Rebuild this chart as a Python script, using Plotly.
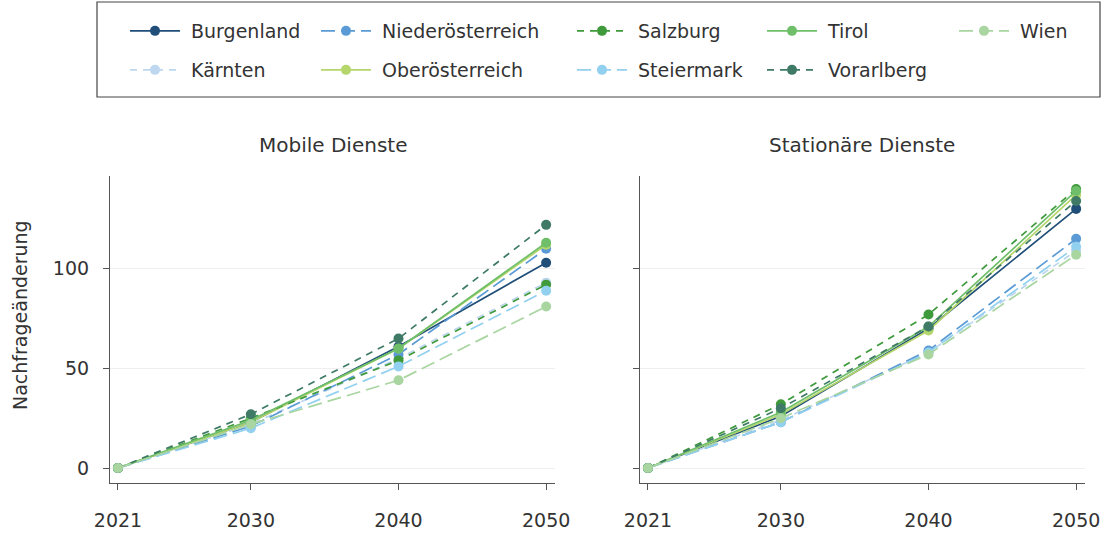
import plotly.graph_objects as go

# --- data -------------------------------------------------------------
jahre = [2021, 2030, 2040, 2050]

regionen = ["Burgenland", "Kärnten", "Niederösterreich", "Oberösterreich",
            "Salzburg", "Steiermark", "Tirol", "Vorarlberg", "Wien"]

# demand change per region (same order as regionen)
mobile_dienste = [
    [0, 23, 61, 103],   # Burgenland
    [0, 22, 55, 93],    # Kärnten
    [0, 21, 57, 110],   # Niederösterreich
    [0, 23, 60, 112],   # Oberösterreich
    [0, 25, 54, 92],    # Salzburg
    [0, 20, 51, 89],    # Steiermark
    [0, 24, 60, 113],   # Tirol
    [0, 27, 65, 122],   # Vorarlberg
    [0, 22, 44, 81],    # Wien
]

stationaere_dienste = [
    [0, 26, 70, 130],   # Burgenland
    [0, 24, 58, 109],   # Kärnten
    [0, 23, 59, 115],   # Niederösterreich
    [0, 27, 69, 137],   # Oberösterreich
    [0, 32, 77, 140],   # Salzburg
    [0, 23, 58, 111],   # Steiermark
    [0, 28, 71, 139],   # Tirol
    [0, 30, 71, 134],   # Vorarlberg
    [0, 25, 57, 107],   # Wien
]

panel_titel = ["Mobile Dienste", "Stationäre Dienste"]
y_ticks = [0, 50, 100]

# --- styling ----------------------------------------------------------
farben = {
    "Burgenland": "#1f4e79",
    "Kärnten": "#bdd7ee",
    "Niederösterreich": "#5b9bd5",
    "Oberösterreich": "#b4d66a",
    "Salzburg": "#3f9a3c",
    "Steiermark": "#92d0f0",
    "Tirol": "#6fbf6a",
    "Vorarlberg": "#3e7a66",
    "Wien": "#a8d5a0",
}
DASHED = "7px,6px"
LONGDASH = "14px,6px"
striche = {
    "Burgenland": "solid",
    "Kärnten": DASHED,
    "Niederösterreich": LONGDASH,
    "Oberösterreich": "solid",
    "Salzburg": DASHED,
    "Steiermark": LONGDASH,
    "Tirol": "solid",
    "Vorarlberg": DASHED,
    "Wien": LONGDASH,
}

W, H = 1105, 533
FONT = "DejaVu Sans"
TXT = "#333333"
AX = "#555555"
NBSP = "\u00a0"

# legend grid: column line-start x (px) and row centre y (px)
legend_pos = {
    "Burgenland": (130, 31), "Niederösterreich": (321, 31), "Salzburg": (577, 31),
    "Tirol": (767, 31), "Wien": (959, 31),
    "Kärnten": (130, 70), "Oberösterreich": (321, 70), "Steiermark": (577, 70),
    "Vorarlberg": (767, 70),
}

L, R, T, B = 110, 20, 176, 50
pw = W - L - R
ph = H - T - B


def px_x(x):
    return (x - L) / pw


def px_y(y):
    return (H - B - y) / ph


fig = go.Figure()

for p, daten in enumerate([mobile_dienste, stationaere_dienste]):
    xa = "x" if p == 0 else "x2"
    ya = "y" if p == 0 else "y2"
    for i, name in enumerate(regionen):
        leg = "legend" if i == 0 else f"legend{i + 1}"
        fig.add_trace(go.Scatter(
            x=jahre, y=daten[i], name=NBSP + name, mode="lines+markers",
            xaxis=xa, yaxis=ya,
            line=dict(color=farben[name], width=1.7, dash=striche[name]),
            marker=dict(color=farben[name], size=10),
            legendgroup=name, showlegend=(p == 0), legend=leg,
        ))

# --- layout -----------------------------------------------------------
dom1 = [0, px_x(555)]
dom2 = [px_x(640), 1.0]

achse_x = dict(range=[2020.46, 2050.6], tickvals=jahre, ticks="outside", ticklen=6,
               tickcolor=AX, showline=True, linecolor=AX, linewidth=1.2,
               showgrid=False, zeroline=False, ticklabelstandoff=14,
               tickfont=dict(family=FONT, size=19, color=TXT))
achse_y = dict(range=[-7.5, 146.5], tickvals=y_ticks, ticks="outside", ticklen=6,
               tickcolor=AX, showline=True, linecolor=AX, linewidth=1.2,
               showgrid=True, gridcolor="#efefef", gridwidth=1, zeroline=False,
               ticklabelstandoff=10,
               tickfont=dict(family=FONT, size=19, color=TXT))

layout = dict(
    width=W, height=H,
    margin=dict(l=L, r=R, t=T, b=B, autoexpand=False),
    paper_bgcolor="white", plot_bgcolor="white",
    font=dict(family=FONT, color=TXT),
    xaxis=dict(domain=dom1, anchor="y", **achse_x),
    xaxis2=dict(domain=dom2, anchor="y2", **achse_x),
    yaxis=dict(anchor="x", **achse_y),
    yaxis2=dict(anchor="x2", showticklabels=False,
                **{k: v for k, v in achse_y.items() if k != "tickfont"}),
)

for i, name in enumerate(regionen):
    key = "legend" if i == 0 else f"legend{i + 1}"
    lx, ly = legend_pos[name]
    layout[key] = dict(
        xref="paper", yref="paper",
        x=px_x(lx - 5), y=px_y(ly), xanchor="left", yanchor="middle",
        bgcolor="rgba(0,0,0,0)", borderwidth=0,
        font=dict(family=FONT, size=19, color=TXT),
        itemwidth=50,
    )

fig.update_layout(**layout)

# frame round the legend
fig.add_shape(type="rect", xref="paper", yref="paper",
              x0=px_x(97), x1=px_x(1100), y0=px_y(97), y1=px_y(2),
              line=dict(color="#444444", width=1.2), fillcolor="rgba(0,0,0,0)")

# panel titles
for dom, titel in zip([dom1, dom2], panel_titel):
    fig.add_annotation(text=titel, xref="paper", yref="paper",
                       x=(dom[0] + dom[1]) / 2, y=px_y(145),
                       xanchor="center", yanchor="middle", showarrow=False,
                       font=dict(family=FONT, size=20, color=TXT))

# y-axis title
fig.add_annotation(text="Nachfrageänderung", xref="paper", yref="paper",
                   x=px_x(20), y=px_y(315), textangle=-90,
                   xanchor="center", yanchor="middle", showarrow=False,
                   font=dict(family=FONT, size=19, color=TXT))

fig.write_html("out.html")
